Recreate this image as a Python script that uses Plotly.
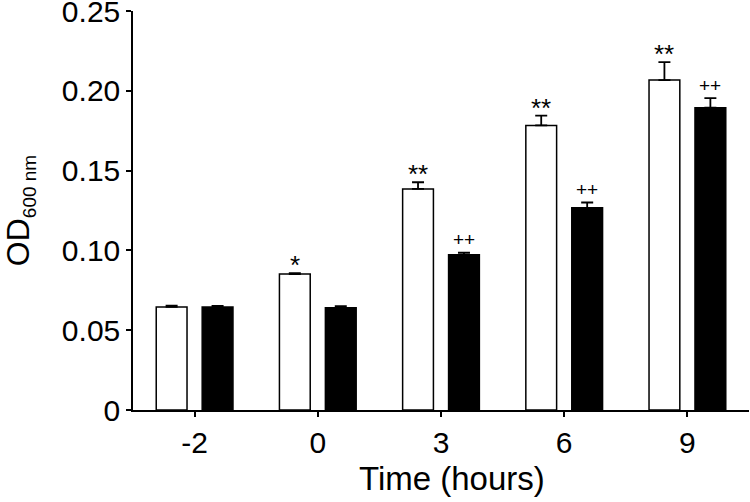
import plotly.graph_objects as go

# ── data ──────────────────────────────────────────────────────────────────────
TIMES = ["-2", "0", "3", "6", "9"]

white_od  = [0.0646, 0.0852, 0.1385, 0.1783, 0.2067]
white_err = [0.0008, 0.0006, 0.0042, 0.0061, 0.0113]
black_od  = [0.0646, 0.0640, 0.0973, 0.1267, 0.1894]
black_err = [0.0006, 0.0010, 0.0013, 0.0033, 0.0060]

white_sig = ["", "*", "**", "**", "**"]
black_sig = ["", "", "++", "++", "++"]

Y_TICKS = [0, 0.05, 0.10, 0.15, 0.20, 0.25]
Y_TICKTEXT = ["0", "0.05", "0.10", "0.15", "0.20", "0.25"]

FONT = "Liberation Sans, Arial, sans-serif"

err_style = dict(type="data", symmetric=False, arrayminus=[0] * len(TIMES),
                 color="black", thickness=1.8, width=6)

fig = go.Figure()
fig.add_trace(go.Bar(
    x=TIMES, y=white_od,
    marker=dict(color="white", line=dict(color="black", width=1.5)),
    error_y=dict(array=white_err, **err_style),
    name="control",
))
fig.add_trace(go.Bar(
    x=TIMES, y=black_od,
    marker=dict(color="black", line=dict(color="black", width=1.5)),
    error_y=dict(array=black_err, **err_style),
    name="treated",
))

# significance marks above the error bars (x given as category index)
for i, (v, e, s) in enumerate(zip(white_od, white_err, white_sig)):
    if s:
        fig.add_annotation(x=i, y=v + e, text=s, showarrow=False,
                           xshift=-23, yshift=8, yanchor="middle",
                           font=dict(family=FONT, size=26, color="black"))
for i, (v, e, s) in enumerate(zip(black_od, black_err, black_sig)):
    if s:
        fig.add_annotation(x=i, y=v + e, text=s, showarrow=False,
                           xshift=23, yshift=13, yanchor="middle",
                           font=dict(family=FONT, size=19, color="black"))

# x title placed as annotation so it sits fully inside the page
fig.add_annotation(xref="paper", yref="paper", x=0.518, y=-0.172,
                   xanchor="center", yanchor="middle", showarrow=False,
                   text="Time (hours)", font=dict(family=FONT, size=33, color="black"))

fig.update_layout(
    width=750, height=502,
    margin=dict(l=133, r=1, t=11, b=92),
    paper_bgcolor="white", plot_bgcolor="white",
    barmode="group", bargap=0.254, bargroupgap=0.33,
    showlegend=False,
    font=dict(family=FONT, color="black"),
    xaxis=dict(
        type="category", range=[-0.5, 4.5], automargin=False,
        showline=True, linecolor="black", linewidth=1.5,
        ticks="outside", ticklen=5, tickwidth=1.5, tickcolor="black",
        tickfont=dict(size=30), showgrid=False, zeroline=False,
    ),
    yaxis=dict(
        range=[0, 0.25], automargin=False, ticklabeloverflow="allow",
        tickvals=Y_TICKS, ticktext=Y_TICKTEXT,
        showline=True, linecolor="black", linewidth=1.5,
        ticks="outside", ticklen=5, tickwidth=1.5, tickcolor="black",
        tickfont=dict(size=30), showgrid=False, zeroline=False,
        title=dict(text="OD<sub><span style='font-size:19px'>600 nm</span></sub>",
                   font=dict(size=32), standoff=34),
    ),
)

# drop the browser's default 8px body margin so the figure fills the window
fig.write_html("out.html", config={"displayModeBar": False},
               post_script="document.body.style.margin = '0';")
